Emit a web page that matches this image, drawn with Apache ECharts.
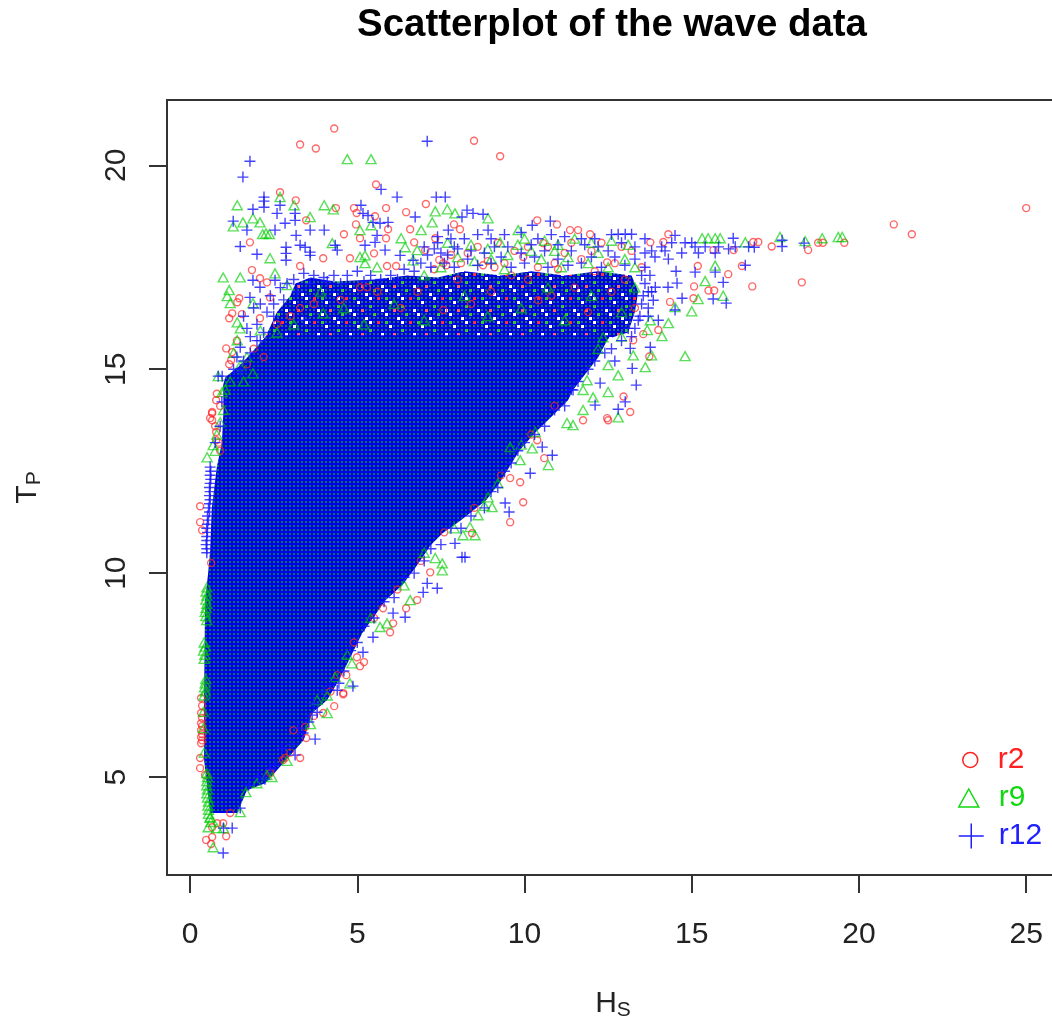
<!DOCTYPE html>
<html><head><meta charset="utf-8">
<style>html,body{margin:0;padding:0;background:#fff;overflow:hidden;width:1052px;height:1024px}#c{width:1070px;height:1024px}#c canvas{filter:blur(.45px)}</style>
<script src="https://cdn.jsdelivr.net/npm/echarts@6/dist/echarts.min.js"></script>
</head><body><div id="c"></div>
<script>
const xTicks=[0,5,10,15,20,25];
const yTicks=[5,10,15,20];
// envelope of the saturated part of the cloud (Hs, Tp)
const coreEnvelope=[[.6,4.12],[1.41,4.12],[1.7,4.68],[2.25,4.85],[2.95,5.49],[3.4,5.91],[3.65,6.57],[4.1,6.89],[4.45,7.38],[4.65,7.7],[5.15,8.53],[5.85,9.34],[6.35,9.71],[6.75,10.15],[7.2,10.69],[7.55,10.98],[8.1,11.3],[8.85,11.79],[9.25,12.21],[9.85,13.01],[10.3,13.43],[10.85,13.87],[11.3,14.24],[11.45,14.49],[12.2,15.29],[12.55,15.83],[2.3,15.83],[1.5,15.1],[1.05,14.8],[.99,14.61],[1,14],[.95,13.2],[.8,12.6],[.65,11.6],[.6,10.56],[.54,10],[.45,9.34],[.42,7],[.42,5.42]];
// envelope of the partly filled band above it
const bandEnvelope=[[2.2,15.7],[2.6,16.4],[3,16.8],[3.15,17.1],[3.6,17.25],[4.3,17.15],[5.5,17.2],[6.5,17.3],[7.4,17.25],[8.2,17.4],[9.3,17.3],[10.2,17.4],[11.2,17.3],[12.2,17.4],[13.2,17.3],[13.4,16.9],[13.3,16.4],[13.1,15.9],[12.3,15.7]];
const r2=[[25,18.95],[21.04,18.55],[21.58,18.31],[18.29,17.13],[16.81,17.03],[19.56,18.1],[18.78,18.1],[18.92,18.1],[18.48,17.92],[17.39,18.01],[16.99,18.12],[16.84,18.12],[16.25,17.92],[15.65,17.92],[16.09,17.33],[16.5,17.53],[15.07,17.03],[15.5,16.93],[15.67,16.93],[15.05,16.74],[14.35,16.65],[15.18,17.53],[14.3,18.31],[13.76,18.11],[14.15,18.12],[13.55,15.86],[13.25,15.71],[13.73,15.31],[12.96,14.33],[13.16,13.95],[12.47,13.8],[14,15.96],
[4.31,20.9],[3.29,20.51],[3.76,20.41],[8.49,20.6],[9.27,20.22],[5.56,19.53],[2.69,19.34],[3.16,19.14],[4.36,18.95],[4.9,18.95],[4.98,18.83],[5.86,18.95],[6.46,18.85],[7.05,19.05],[3.47,18.65],[4.96,18.55],[5.53,18.75],[5.92,18.43],[6.58,18.43],[7.89,18.55],[8.07,18.43],[10.38,18.65],[10.97,18.55],[11.36,18.41],[11.6,18.41],[11.96,18.31],[4.6,18.31],[5.08,18.21],[5.86,18.21],[6.7,18.11],[7.33,18.21],[1.79,18.11],[5.5,17.84],[3.98,17.72],[4.78,17.72],[3.29,17.53],[1.85,17.43],[5.89,17.53],[6.16,17.53],[2.09,17.23],[2.3,17.13],[1.47,16.74],[1.41,16.64],[1.26,16.37],[1.17,16.25],[1.55,16.35],[2.09,16.25],[1.08,15.51],[1.26,15.42],[1.23,15.22],[1.17,15.12],[1.7,15.12],[.78,14.24],[.66,13.95],[.6,13.8],[7.57,17.6],[7.03,17.92],[8.76,17.55],[10.56,18.09],[9.96,17.75],[10.41,16.69],[5.08,17.01],[5.29,17.01],[3.29,16.5],[7.57,16.45],[2.39,16.76],[12.47,17.62],[7.45,17.68],[7.66,17.55],[8.9,17.65],[10.7,18],[12.3,18.1],[12.9,18],[9.2,18.1],[9.7,17.9],[11.2,17.85],[12.1,17.4],[13,17.2],
[.66,13.92],[.66,13.75],[.78,13.46],[.78,13.26],[.3,11.64],[.3,11.25],[.36,11.05],[.63,10.25],[12.5,13.75],[11.75,13.75],[10.38,13.26],[10.59,12.82],[9.87,12.23],[9.57,12.33],[9.96,11.74],[9.57,11.25],[8.43,10.98],[7.18,10.02],[6.79,9.34],[6.46,9.14],[5.98,8.55],[6.07,8.77],[5.77,9.14],[5.2,7.82],[5.08,7.72],[4.99,7.94],[4.67,7.5],[4.58,7.06],[4.4,7.5],[4.31,6.74],[4.58,7.03],[3.98,6.57],[3.47,5.96],[3.29,5.47],[2.84,5.47],[.3,5.47],[.3,5.22],[.45,5.05],[.33,6.94],[.33,6.57],[.33,6.32],[.33,6.15],[.33,5.98],[.33,5.83],[.36,6.75],[.36,6.45],[.36,6.25],[.36,6.05],[.36,5.9],[1.08,3.55],[.66,3.53],[.48,3.46],[.63,3.36],[.66,3.77],[.81,3.87],[.99,3.87],[1.2,4.12],[3.44,6.23],[3.09,6.15],[2.78,5.42],
[.8,14.4],[.9,14.1],[.75,13.6],[.85,13.2],[.9,13],[1.4,15.7],[1.9,15.5],[2.2,15.3],[2.6,16.1],[3,16.3],[3.7,16.6],[4.5,16.7],[5.6,16.9],[6.3,16.5],[6.8,16.9],[8,17.2],[8.4,16.6],[9,16.9],[9.6,17.3],[10.1,17.2],[10.8,16.8],[11.5,17],[11.9,16.4],[12.6,16.9],[7.8,17.8],[8.3,17.85],[9.4,17.6],[10.4,17.5],[11.7,17.7],[13.3,16.5],[10.9,14.1],[10.2,13.4],[9.3,12.4],[8.5,11.6],[7.6,11],[6.9,10.3],[6.2,9.6],[5.5,8.9],[4.9,8.3],[4.2,7.1],[3.7,6.5],[3,5.6],[2.4,5.1],
[7.3,17.45],[8.1,17.6],[8.6,18],[9.1,17.5],[10.1,18],[10.9,17.6],[11.4,18.1],[12,17.9],[12.7,17.6],[13.2,17.9],[13.5,17.5],[11,17.45]];
const r9=[[4.7,20.15],[5.41,20.15],[1.41,19.02],[2.69,19.22],[3.11,19.02],[4.01,19.02],[4.28,18.92],[3.59,18.73],[1.58,18.6],[1.88,18.7],[2.09,18.6],[1.29,18.5],[2.27,18.33],[2.17,18.31],[2.37,18.31],[5.08,18.41],[5.41,18.53],[4.25,18.09],[6.31,18.21],[6.43,17.99],[7.33,18.87],[7.69,18.92],[7.92,18.82],[7.24,18.6],[6.91,18.41],[8.91,18.7],[2.39,17.72],[5.08,17.75],[5.23,17.79],[.99,17.25],[1.5,17.25],[2.54,17.35],[2.9,17.06],[1.17,16.94],[1.11,16.79],[1.2,16.62],[1.88,16.62],[1.41,16.15],[1.5,16],[3.98,16.37],[5.59,17.5],[5.23,17.6],[6.67,17.67],[6.79,17.92],[7.7,18.1],[9.27,18.11],[9.81,18.41],[.84,14.83],[1.41,15.71],[1.88,14.9],[.96,14.44],[12.05,14.31],[11.75,14.49],[11.87,14.73],[12.35,15.78],
[10,18.2],[10.6,18.15],[11,18.05],[11.5,18.2],[12,18.1],[12.6,18.15],[13.1,18.05],[8.4,18.05],[8.9,17.95],[9.5,17.8],[10.2,17.9],[11.3,17.75],[12.2,17.85],[13,17.7],[8.5,17.65],
[14.8,15.32],[15,16.42],[15.19,16.72],[15.94,16.8],[15.7,17.54],[15.4,17.16],[14.3,16.13],[14.11,15.81],[13.61,15.05],[13.25,15.34],[13.8,15.34],[12.8,14.85],[12.5,14.44],[12.8,13.82],[17.64,18.24],[18.39,18.14],[18.9,18.21],[19.38,18.24],[19.5,18.24],[16.6,18.11],[15.85,18.21],[15.31,18.21],[15.49,18.21],[15.7,18.21],[14.5,16.52],[13.76,16.2],[13.67,15.96],
[.51,12.84],[.69,13.14],[10.23,13.06],[10.71,12.65],[9.87,12.77],[10.32,13.46],[9.57,13.09],[11.45,13.63],[11.27,13.68],[11.75,14],[8.91,11.86],[9.03,11.62],[8.61,11.42],[8.37,11.13],[8.52,10.93],[8.16,10.93],[7.54,10.07],[7.54,10.24],[7.33,10.37],[6.58,9.34],[5.89,8.77],[5.68,8.68],[4.84,7.79],[4.78,7.3],[4.34,7.45],
[.5,9.65],[.48,9.55],[.5,9.45],[.47,9.35],[.5,9.25],[.48,9.15],[.45,9.05],[.47,8.95],[.5,8.85],[.42,8.3],[.45,8.2],[.4,8.1],[.44,8],[.42,7.9],[.47,7.4],[.45,7.3],[.43,7.2],[.45,7.1],[.42,7],[.4,6.6],[.4,6.2],[.42,5.6],[.5,5.1],[.52,5],[.5,4.9],[.5,4.8],[.52,4.7],[.5,4.6],[.52,4.5],[.55,4.4],[.53,4.3],[.55,4.2],[.55,4.1],[.6,4],[.62,3.9],
[4.1,6.57],[3.8,6.89],[2.3,5.05],[2,4.85],[2.45,5],[1.67,4.63],[1.5,4.14],[.6,4.02],[.54,3.77],[.69,3.28],[.8,3.75],[1,3.75],
[.8,13.4],[.75,13],[.9,13.7],[1,14],[1.05,14.5],[1.2,14.7],[1.5,15.1],[1.7,15.3],[1.6,14.7],[1.3,15.4],[2.1,15.95],[2.6,15.9],[3.1,16.1],[3.9,16.9],[4.6,16.5],[5.2,16.1],[6.1,16.6],[7,16.2],[8.2,16.8],[8.9,16.3],[9.9,16.5],[10.7,17],[11.2,16.2],[12,16.8],[12.9,16.4],[13.3,17],[9.9,13.15],[9.2,12.2],[8.8,11.65],[7.9,11.1],[7,10.5],[6.4,9.7],[5.4,8.9],[4.7,8],[4.1,7],[3.6,6.3],[2.9,5.4],[12.5,15.1],[12.2,15.5],[12.9,15.8],
[7.5,17.5],[8,17.75],[9,17.7],[9.8,18.05],[10.5,17.7],[11.1,17.5],[11.9,17.6],[12.5,17.5],[13.3,17.5],[7,17.3],[9.4,17.45],[10.9,17.9]];
const r12=[[7.09,20.59],[1.79,20.1],[1.58,19.71],[5.71,19.41],[6.19,19.22],[7.36,19.22],[7.63,19.22],[2.21,19.22],[2.21,19.12],[2.21,18.97],[1.88,18.92],[2.69,19.02],[3.14,18.82],[2.6,18.82],[2.84,18.58],[1.29,18.63],[1.7,18.41],[2.54,18.41],[3.17,18.28],[3.14,18.65],[3.59,18.41],[4.01,18.41],[1.5,18.01],[2,17.82],[2.87,17.99],[2.87,17.84],[2.87,17.67],[3.29,18.04],[3.44,17.99],[3.59,17.87],[3.59,17.79],[4.4,17.92],[4.34,18.04],[5.11,19.02],[5.17,18.82],[5.32,18.77],[5.47,18.6],[5.68,18.58],[5.92,18.6],[6.73,18.73],[8.13,18.73],[8.28,18.9],[8.46,18.82],[8.76,18.8],[7.72,18.41],[8.91,18.41],[10.23,18.53],[10.77,18.63],[5.59,18.28],[5.53,18.11],[5.23,18.04],[5.83,17.92],[6.28,17.79],[6.67,17.67],[1.88,17.18],[2.09,17.01],[2.54,17.18],[1.79,16.76],[1.5,15.54],[.84,14.83],[.96,14.83],[1.5,14.93],[12.11,14.12],[11.45,14.49],[12.26,14.66],
[3.1,17.2],[3.4,17.35],[3.7,17.3],[4,17.25],[4.3,17.3],[4.7,17.3],[5,17.4],[5.4,17.3],[6,17.3],[6.4,17.45],[2.7,17],[2.4,16.8],[2.1,16.6],[2.5,16.3],[2,16.1],[1.8,15.8],[2.2,15.9],[3.4,16.2],
[1.6,16.3],[1.9,16.5],[2.3,16.4],[1.7,16],[2.1,15.7],[2.5,16.6],[2.8,16.7],[2.9,17.1],[3.2,16.9],[1.4,15.3],[1.6,15.2],[1.8,15.4],[1.3,15],[1.5,15],[2,15.7],[3.6,17.1],[4.1,17.15],[4.5,17.1],[5.2,17.15],[5.7,17.2],[6.2,17.2],[6.7,17.4],[6.9,17.6],[7.1,17.8],[7.5,17.85],[7.9,18],
[7,18],[7.4,18.1],[7.8,18.2],[8.2,18.2],[8.6,18.3],[9,18.2],[9.4,18.3],[9.9,18.35],[10.4,18.2],[10.8,18.3],[11.2,18.25],[11.7,18.2],[12.1,18.2],[12.6,18.3],[13.01,18.31],[12.8,18.31],[13.2,18.31],[13.6,18.2],[14.1,18],[14.5,18.28],[14.8,18.1],[15.1,18],[15.4,18],[15.8,18],[16.24,18.21],[16.3,18],[16.7,18],[16.87,17.99],[15,18.1],[14.4,18.1],[14.2,17.9],[14.7,17.85],[15.2,17.85],[15.7,17.85],[16.1,17.95],[13.8,17.9],[13.9,17.75],[14.3,17.7],
[7.2,17.5],[7.6,17.6],[7.9,17.5],[8.3,17.7],[8.6,17.55],[9,17.6],[9.3,17.75],[9.6,17.5],[10,17.6],[10.3,17.75],[10.7,17.5],[11,17.7],[11.3,17.55],[11.7,17.6],[12,17.75],[12.3,17.5],[12.7,17.75],[13,17.55],[13.3,17.7],[13.6,17.5],
[7.3,17.95],[7.7,17.8],[8,17.95],[8.4,17.9],[8.8,17.85],[9.1,18],[9.5,18],[9.9,17.85],[10.2,18.05],[10.6,17.9],[11,18.05],[11.4,17.9],[11.8,18.05],[12.2,18],[12.5,17.9],[12.9,18.1],[13.3,18],[13.6,17.85],
[7.4,18.25],[13.5,17.3],[13.6,17.1],[13.55,16.8],[13.5,16.6],[13.45,16.3],[13.3,16],[13.2,15.8],[13.75,17.3],[13.8,16.9],[13.7,16.3],
[13.01,14.2],[10.53,13.09],[10.83,12.89],[10.17,12.45],[9.42,11.72],[9.54,11.5],[8.13,10.39],[8.22,10.39],[7.92,10.73],[7.39,9.63],[6.97,9.53],[7.09,9.75],[6.43,8.92],[6.07,9.02],[5.17,8.06],[5.47,8.43],[4.87,7.23],[4.4,7.13],[3.74,5.93],[3.14,5.54],[2.54,5.29],[2.24,4.95],[1.5,4.24],[1.26,3.75],[.99,3.14],[3.8,6.59],[3.65,6.52],[3.38,6.08],[1,3.75],
[1.75,4.8],[2.05,5],[2.4,5.2],[2.75,5.7],[3.05,5.8],[3.25,6.2],[3.55,6.35],[3.7,6.8],[4,7.1],[4.2,7.25],[4.45,7.3],[4.6,7.6],[4.8,8.1],[5,8.3],[5.2,8.7],[5.5,8.9],[5.8,9.3],[6.1,9.4],[6.4,9.9],[6.7,10],[7,10.3],[7.2,10.6],[7.5,10.7],[7.8,11.1],[8.1,11.1],[8.4,11.4],[8.8,11.6],[9,12],[9.2,12.1],[9.4,12.5],[9.6,12.7],[9.8,13],[10,13.2],[10.3,13.4],[10.6,13.6],[10.9,14],[11.2,14.1],[11.4,14.5],[11.6,14.7],[11.9,15],[12.1,15.2],[12.4,15.4],[12.6,15.5],[12.7,15.2],[12.9,15.7],[13.1,16],[13.4,16.2],[13.7,16.5],[13.7,16.9],
[17.7,18.16],[17.7,18.01],[18.36,18.09],[15.94,17.13],[16.6,17.55],[15.64,16.72],[16.03,16.62],[14.71,16.74],[14.5,16.45],[14.29,17.01],[13.91,17.01],[14.56,17.11],[14.53,17.4],[15.1,17.38],[15.7,17.38],[13.76,15.54],[13.22,15.02],[13.34,14.61],[12.8,14.02],[13.16,15.51],[14,16.2],[13.85,16.69],
[.6,12.6],[.62,12.5],[.6,12.4],[.62,12.3],[.6,12.2],[.58,12.1],[.6,12],[.58,11.9],[.6,11.8],[.58,11.7],[.55,11.6],[.58,11.5],[.52,11.4],[.55,11.3],[.52,11.2],[.5,11.1],[.52,11],[.5,10.9],[.5,10.8],[.48,10.7],[.5,10.6],[.5,10.5],[.75,13.2],[.9,13.6],[.95,14.2]];

function tile(w,h,paint){const c=document.createElement('canvas');c.width=w;c.height=h;paint(c.getContext('2d'));return c;}
const corePattern=tile(4,4,g=>{g.fillStyle='#0000ee';g.fillRect(0,0,4,4);g.fillStyle='#007a48';g.fillRect(1,1,2,2);});
const bandPattern=tile(32,24,g=>{g.fillStyle='#0000e6';g.fillRect(0,0,32,24);
  for(let x=0;x<32;x+=4)for(let y=0;y<24;y+=4){g.fillStyle='#1a7a60';g.fillRect(x+1,y+1,2,2);}
  [[0,0,'#fff'],[12,4,'#fff'],[24,8,'#f33'],[4,12,'#fff'],[16,16,'#3c3'],[28,20,'#fff'],[8,20,'#f66'],[20,0,'#3c3'],[0,8,'#3c3'],[16,8,'#fff']].forEach(p=>{g.fillStyle=p[2];g.fillRect(p[0]+1,p[1]+1,3,3);});});

const fontF='"Liberation Sans",Arial,sans-serif';
const RED='rgba(255,40,40,.7)',GREEN='rgba(0,205,0,.65)',BLUE='rgba(20,20,255,.8)';
const crossPath='path://M0,5H10M5,0V10';
function envelope(name,pts,pattern,z){return {type:'custom',name,coordinateSystem:'cartesian2d',silent:true,z,clip:true,data:[[pts[0][0],pts[0][1]]],
  renderItem:(p,api)=>({type:'polygon',shape:{points:pts.map(q=>api.coord(q))},style:{fill:{image:pattern,repeat:'repeat'}}})};}
function scatter(name,data,symbol,size,stroke,z){return {type:'scatter',name,data,symbol,symbolSize:size,z,silent:true,clip:true,
  itemStyle:{color:'rgba(0,0,0,0)',borderColor:stroke,borderWidth:1.4,opacity:1},animation:false};}
function legendItem(name,icon,w,h,color,left,top,pad){return {show:true,data:[{name,icon,itemStyle:{color:'rgba(0,0,0,0)',borderColor:color,borderWidth:1.5},textStyle:{color,fontSize:30,fontFamily:fontF,padding:[4,0,0,pad]}}],left,top,itemWidth:w,itemHeight:h,padding:0,selectedMode:false};}
const chart=echarts.init(document.getElementById('c'),null,{renderer:'canvas'});
chart.setOption({animation:false,backgroundColor:'#fff',
 title:{text:'Scatterplot of the wave data',left:607,top:1,textAlign:'center',textStyle:{fontFamily:fontF,fontSize:38.4,fontWeight:'bold',color:'#000'}},
 grid:{left:167,top:100,width:892,height:775,show:true,borderColor:'#333',borderWidth:2,containLabel:false,outerBoundsMode:'none'},
 legend:[legendItem('r2','circle',15,15,'#ff2020',962,745,15),legendItem('r9','triangle',20,18,'#10d810',958,783,15),legendItem('r12',crossPath,25,25,'#2020ff',958,821,10)],
 xAxis:{type:'value',min:-.69,max:25.98,splitLine:{show:false},
  axisLine:{show:true,onZero:false,lineStyle:{color:'#333',width:2}},
  axisTick:{show:true,length:18,customValues:xTicks,lineStyle:{color:'#333',width:2}},
  axisLabel:{customValues:xTicks,fontSize:30,fontFamily:fontF,color:'#222',margin:45},
  name:'{a|H}{b|S}',nameLocation:'middle',nameGap:111,nameTextStyle:{rich:{a:{fontSize:30,fontFamily:fontF,color:'#222'},b:{fontSize:21,fontFamily:fontF,color:'#222',padding:[14,0,0,0]}}}},
 yAxis:{type:'value',min:2.6,max:21.6,splitLine:{show:false},
  axisLine:{show:true,onZero:false,lineStyle:{color:'#333',width:2}},
  axisTick:{show:true,length:18,customValues:yTicks,lineStyle:{color:'#333',width:2}},
  axisLabel:{customValues:yTicks,rotate:90,fontSize:30,fontFamily:fontF,color:'#222',margin:35},
  name:'{a|T}{b|P}',nameLocation:'middle',nameGap:122,nameTextStyle:{rich:{a:{fontSize:30,fontFamily:fontF,color:'#222'},b:{fontSize:21,fontFamily:fontF,color:'#222',padding:[14,0,0,0]}}}},
 series:[
  envelope('band',bandEnvelope,bandPattern,1),
  envelope('core',coreEnvelope,corePattern,2),
  scatter('r2',r2,'circle',7,RED,3),
  scatter('r9',r9,'triangle',[10,9],GREEN,4),
  scatter('r12',r12,crossPath,11,BLUE,5)
 ]});
</script></body></html>
